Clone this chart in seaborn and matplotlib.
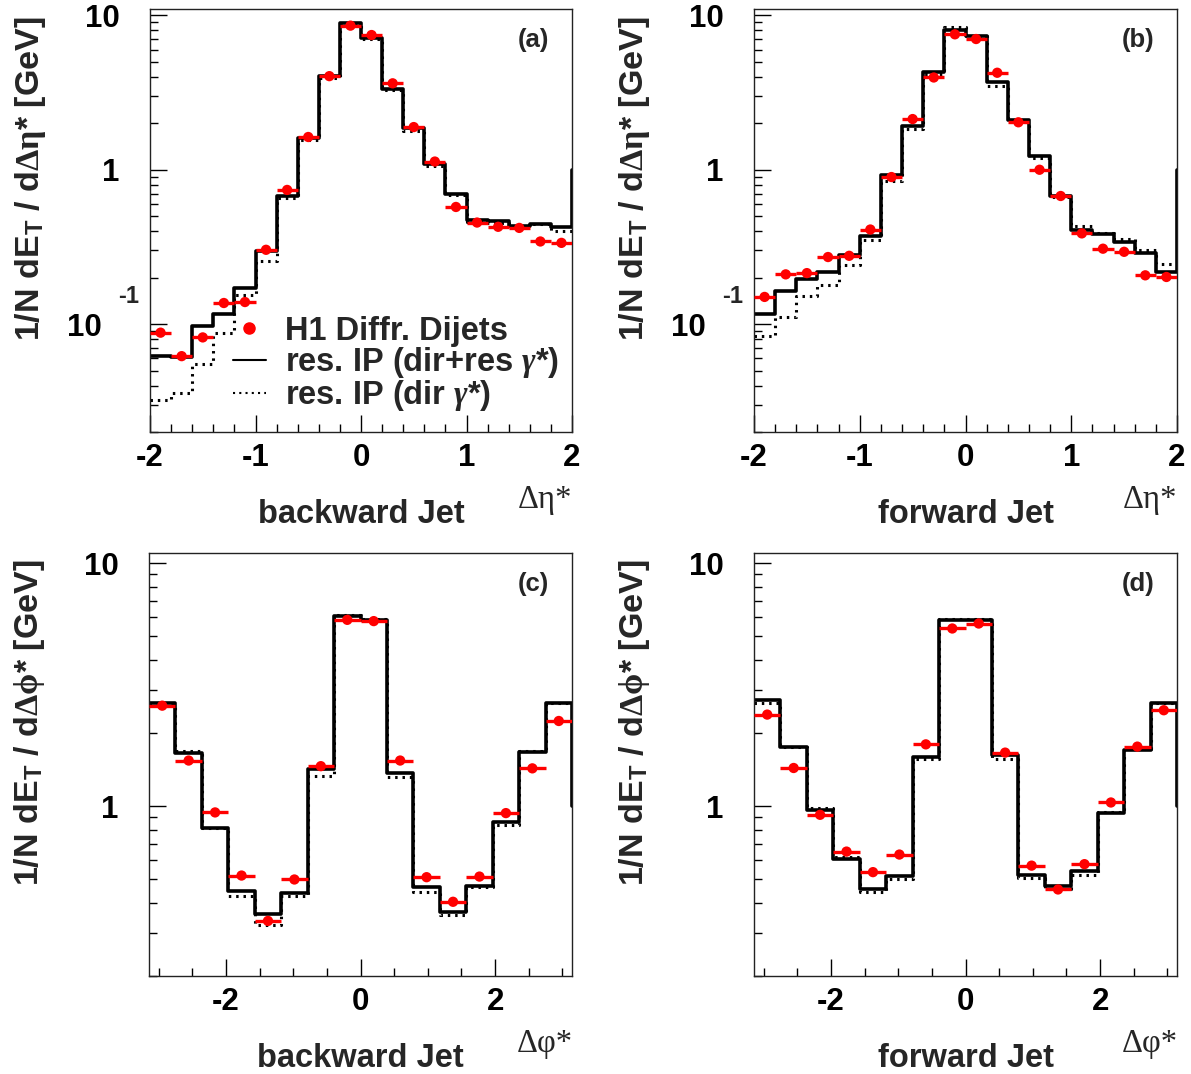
import numpy as np
import pandas as pd
import matplotlib
matplotlib.use("Agg")
import matplotlib.pyplot as plt
import seaborn as sns
from matplotlib.lines import Line2D
from matplotlib.legend_handler import HandlerLine2D
from matplotlib.ticker import FixedLocator, FixedFormatter, LogLocator, MultipleLocator, NullFormatter

sns.set_theme(style="ticks")
plt.rcParams['font.family'] = ['Liberation Sans', 'DejaVu Sans']
plt.rcParams['font.weight'] = 'bold'
plt.rcParams['axes.unicode_minus'] = False
plt.rcParams['mathtext.fontset'] = 'custom'
plt.rcParams['mathtext.rm'] = 'Liberation Sans:bold'
plt.rcParams['mathtext.bf'] = 'Liberation Sans:bold'
plt.rcParams['mathtext.it'] = 'Liberation Serif:italic'
plt.rcParams['mathtext.sf'] = 'Liberation Serif'

# ---------------- data ----------------
eta_edges = np.round(np.arange(-2.0, 2.0001, 0.2), 2)
phi_edges = np.linspace(-np.pi, np.pi, 17)

a_data = [0.088, 0.062, 0.082, 0.137, 0.139, 0.303, 0.74, 1.63, 4.04, 8.58,
          7.46, 3.63, 1.89, 1.13, 0.574, 0.455, 0.427, 0.42, 0.343, 0.336]
a_full = [0.0625, 0.061, 0.0975, 0.117, 0.172, 0.296, 0.673, 1.60, 4.04, 8.9,
          7.14, 3.33, 1.87, 1.09, 0.693, 0.471, 0.464, 0.43, 0.442, 0.425]
a_dir = [0.032, 0.036, 0.0552, 0.0875, 0.154, 0.256, 0.657, 1.55, 3.95, 8.7,
         7.0, 3.3, 1.78, 1.06, 0.69, 0.46, 0.455, 0.43, 0.445, 0.40]

b_data = [0.150, 0.21, 0.214, 0.272, 0.277, 0.41, 0.897, 2.13, 3.96, 7.54,
          7.03, 4.25, 2.03, 1.0, 0.676, 0.387, 0.308, 0.294, 0.207, 0.202]
b_full = [0.117, 0.163, 0.195, 0.216, 0.279, 0.375, 0.919, 1.93, 4.31, 8.0,
          7.35, 3.71, 2.1, 1.23, 0.68, 0.41, 0.385, 0.34, 0.29, 0.219]
b_dir = [0.0833, 0.111, 0.152, 0.179, 0.241, 0.35, 0.84, 1.85, 4.2, 8.4,
         7.35, 3.48, 2.05, 1.2, 0.67, 0.435, 0.39, 0.354, 0.30, 0.244]

c_data = [2.59, 1.54, 0.942, 0.518, 0.337, 0.499, 1.46, 5.84,
          5.77, 1.54, 0.51, 0.404, 0.513, 0.936, 1.43, 2.24]
c_full = [2.66, 1.65, 0.812, 0.447, 0.359, 0.439, 1.42, 6.03,
          5.84, 1.365, 0.464, 0.367, 0.471, 0.862, 1.675, 2.66]
c_dir = [2.62, 1.68, 0.81, 0.425, 0.323, 0.427, 1.33, 6.1,
         5.9, 1.32, 0.443, 0.355, 0.465, 0.84, 1.69, 2.66]

d_data = [2.38, 1.435, 0.921, 0.65, 0.535, 0.632, 1.795, 5.38,
          5.64, 1.66, 0.569, 0.454, 0.577, 1.035, 1.757, 2.48]
d_full = [2.74, 1.745, 0.966, 0.606, 0.457, 0.518, 1.6, 5.84,
          5.84, 1.63, 0.521, 0.471, 0.54, 0.936, 1.7, 2.66]
d_dir = [2.65, 1.745, 0.98, 0.62, 0.443, 0.502, 1.56, 5.9,
         5.9, 1.56, 0.506, 0.457, 0.52, 0.95, 1.71, 2.66]

panel_tags = ['(a)', '(b)', '(c)', '(d)']
jet_labels = ['backward Jet', 'forward Jet', 'backward Jet', 'forward Jet']
legend_labels = ['H1 Diffr. Dijets', r'res. IP (dir+res $\mathit{\gamma}$*)', r'res. IP (dir $\mathit{\gamma}$*)']

# ---------------- figure ----------------
W, H = 1191, 1074
fig = plt.figure(figsize=(W / 100, H / 100), dpi=100)

def px_axes(x0, y0, x1, y1):
    return fig.add_axes([x0 / W, 1 - y1 / H, (x1 - x0) / W, (y1 - y0) / H])

FS = 23.5
TFS = 22.5


class RightMarker(HandlerLine2D):
    def get_xdata(self, legend, xdescent, ydescent, width, height, fontsize):
        xdata, xm = super().get_xdata(legend, xdescent, ydescent, width, height, fontsize)
        return xdata, np.array([-xdescent + width])


def draw(ax, edges, data, full, direct, ylim, eta):
    edges = np.asarray(edges)
    centers = 0.5 * (edges[:-1] + edges[1:])
    halfw = 0.5 * np.diff(edges)
    # dotted: direct only
    dfd = pd.DataFrame({'x': edges, 'y': np.append(direct, direct[-1])})
    sns.lineplot(data=dfd, x='x', y='y', ax=ax, sort=False, estimator=None,
                 drawstyle='steps-post', color='black', lw=2.2,
                 linestyle=(0, (0.8, 1.6)))
    # solid: dir + res
    xs = np.append(edges, edges[-1])
    ys = np.append(np.append(full, full[-1]), 1.0)
    dff = pd.DataFrame({'x': xs, 'y': ys})
    sns.lineplot(data=dff, x='x', y='y', ax=ax, sort=False, estimator=None,
                 drawstyle='steps-post', color='black', lw=2.6)
    # data points
    ax.errorbar(centers, data, xerr=halfw, fmt='none', ecolor='#ff0000',
                elinewidth=2.4, capsize=0, zorder=5)
    sns.scatterplot(x=centers, y=data, ax=ax, color='#ff0000', s=55,
                    edgecolor='none', zorder=6)
    ax.set_yscale('log')
    ax.set_xlim(edges[0], edges[-1])
    ax.set_ylim(*ylim)
    ax.set_xlabel('')
    ax.set_ylabel('')
    if eta:
        ax.xaxis.set_major_locator(MultipleLocator(1))
        ax.xaxis.set_minor_locator(MultipleLocator(0.2))
        ax.yaxis.set_major_locator(FixedLocator([0.1, 1, 10]))
        ax.yaxis.set_major_formatter(FixedFormatter(['10  ', '1', '10']))
        ax.text(-0.05, 0.15, '-1', transform=ax.get_yaxis_transform(),
                ha='center', va='center', fontsize=17, fontweight='bold')
    else:
        ax.xaxis.set_major_locator(MultipleLocator(2))
        ax.xaxis.set_minor_locator(MultipleLocator(0.5))
        ax.yaxis.set_major_locator(FixedLocator([1, 10]))
        ax.yaxis.set_major_formatter(FixedFormatter(['1', '10']))
    ax.yaxis.set_minor_locator(LogLocator(base=10, subs=np.arange(2, 10)))
    ax.yaxis.set_minor_formatter(NullFormatter())
    ax.tick_params(axis='both', which='both', direction='in', colors='black',
                   width=1.0, top=False, right=False)
    ax.tick_params(axis='both', which='major', length=12)
    ax.tick_params(axis='both', which='minor', length=6)
    ax.tick_params(axis='y', which='major', pad=22, labelsize=TFS)
    ax.tick_params(axis='x', which='major', pad=8, labelsize=TFS)
    for lab in ax.get_xticklabels() + ax.get_yticklabels():
        lab.set_fontweight('bold')
    for s in ax.spines.values():
        s.set_color('#222222')
        s.set_linewidth(1.0)
        s.set_visible(True)
    ax.set_facecolor('white')

boxes = [(150, 9, 572, 432), (754, 9, 1177, 432),
         (149, 553, 572, 976), (754, 553, 1177, 976)]
datasets = [(eta_edges, a_data, a_full, a_dir, (0.02, 11), True),
            (eta_edges, b_data, b_full, b_dir, (0.02, 11), True),
            (phi_edges, c_data, c_full, c_dir, (0.2, 11), False),
            (phi_edges, d_data, d_full, d_dir, (0.2, 11), False)]

axes = []
for i, (box, ds) in enumerate(zip(boxes, datasets)):
    ax = px_axes(*box)
    draw(ax, *ds)
    axes.append(ax)
    x0, y0, x1, y1 = box
    ax.text(0.908, 0.927, panel_tags[i], transform=ax.transAxes, ha='center',
            va='center', fontsize=18.5, fontweight='bold')
    # x labels
    ax.text(0.5, -0.196, jet_labels[i], transform=ax.transAxes, ha='center',
            va='center', fontsize=FS, fontweight='bold')
    sym = 'Δη*' if ds[5] else 'Δφ*'
    ax.text(0.936, -0.16, sym, transform=ax.transAxes, ha='center', va='center',
            fontsize=FS, fontweight='normal', family=['Liberation Serif', 'DejaVu Serif'])
    # y label
    ylab = (r'1/N dE$_{\mathbf{T}}$ / d$\mathsf{\Delta\eta}$* [GeV]' if ds[5]
            else r'1/N dE$_{\mathbf{T}}$ / d$\mathsf{\Delta\phi}$* [GeV]')
    fig.text((x0 - 119) / W, 1 - (y0 + 170) / H, ylab, rotation=90, ha='center',
             va='center', fontsize=24.5, fontweight='bold')

handles = [Line2D([], [], marker='o', color='#ff0000', ls='none', ms=8),
           Line2D([], [], color='black', lw=1.5),
           Line2D([], [], color='black', lw=1.5, ls=(0, (1, 2)))]
leg = axes[0].legend(handles, legend_labels, loc='upper left',
                     bbox_to_anchor=(0.197, 0.275), frameon=False, fontsize=FS,
                     handlelength=1.0, handletextpad=0.6, labelspacing=-0.05,
                     borderpad=0, borderaxespad=0,
                     handler_map={handles[0]: RightMarker(numpoints=1)})
for t in leg.get_texts():
    t.set_fontweight('bold')

fig.savefig('out.png', dpi=100, facecolor='white')
